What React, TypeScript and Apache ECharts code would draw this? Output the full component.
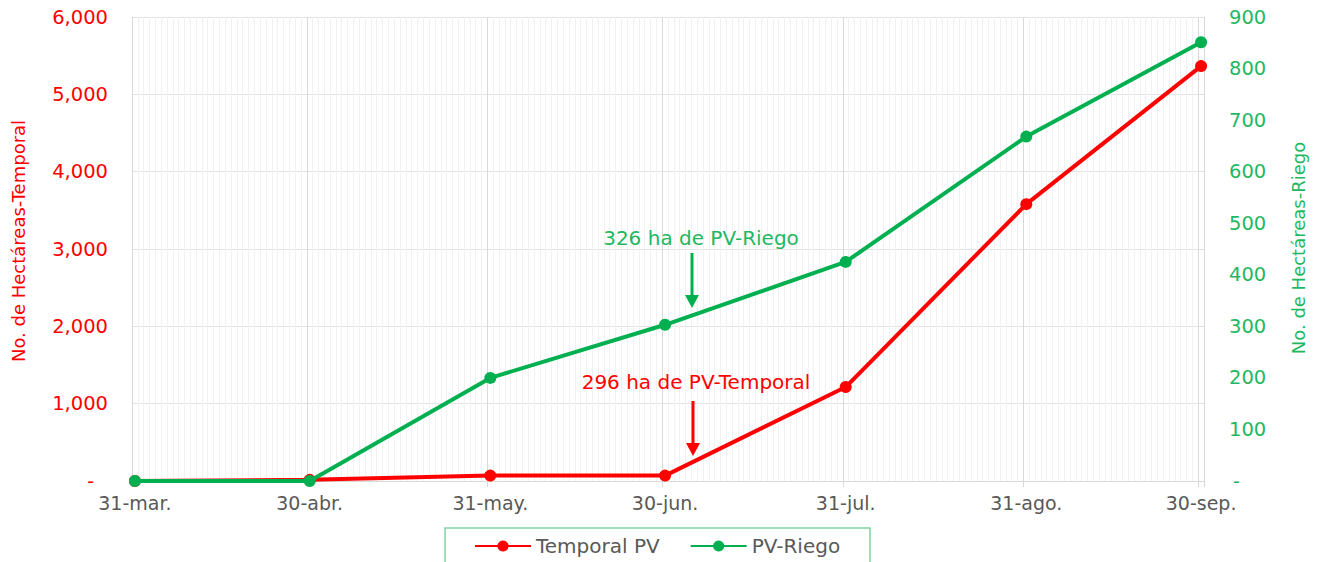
import React, { useEffect, useRef } from "react";
import * as echarts from "echarts";

const dateLabels = ["31-mar.", "30-abr.", "31-may.", "30-jun.", "31-jul.", "31-ago.", "30-sep."];
const temporalPV = [0, 15, 70, 70, 1215, 3580, 5365];
const pvRiego = [0, 0, 200, 303, 425, 668, 851];
const leftTicks = { min: 0, max: 6000, interval: 1000 };
const rightTicks = { min: 0, max: 900, interval: 100 };
const monthAbbr = ["ene", "feb", "mar", "abr", "may", "jun", "jul", "ago", "sep", "oct", "nov", "dic"];

const FONT = "DejaVu Sans";
const RED = "#FF0000";
const GREEN = "#00B050";
const GREEN_TXT = "#1fb862";

function buildDays(): string[] {
  const out: string[] = [];
  const start = new Date(2023, 2, 31);
  const end = new Date(2023, 8, 30);
  for (let d = new Date(start); d <= end; d.setDate(d.getDate() + 1)) {
    const dd = String(d.getDate()).padStart(2, "0");
    out.push(`${dd}-${monthAbbr[d.getMonth()]}.`);
  }
  return out;
}

export default function App() {
  const ref = useRef<HTMLDivElement>(null);
  useEffect(() => {
    if (!ref.current) return;
    const chart = echarts.init(ref.current, undefined, { renderer: "svg" });
    const days = buildDays();
    const major = new Set(dateLabels);
    const isMajor = (_i: number, v: string) => major.has(v);
    const fmtLeft = (v: number) => (v === 0 ? "{z|-}" : v.toLocaleString("en-US"));
    const fmtRight = (v: number) => (v === 0 ? "{z|-}" : String(v));

    chart.setOption({
      animation: false,
      textStyle: { fontFamily: FONT },
      grid: { left: 132, right: 115, top: 17, bottom: 81 },
      legend: {
        left: 474,
        top: 536,
        padding: 0,
        itemWidth: 56,
        itemHeight: 14,
        itemGap: 30,
        textStyle: { fontSize: 20, color: "#595959", fontFamily: FONT },
        data: ["Temporal PV", "PV-Riego"],
      },
      xAxis: [
        {
          type: "category",
          data: days,
          boundaryGap: true,
          axisLine: { show: true, lineStyle: { color: "#d9d9d9", width: 1 } },
          axisTick: { show: true, interval: isMajor, length: 6, lineStyle: { color: "#d9d9d9" } },
          axisLabel: {
            interval: isMajor,
            color: "#595959",
            fontSize: 19,
            fontFamily: FONT,
            margin: 12,
          },
          splitLine: { show: true, interval: isMajor, lineStyle: { color: "#d9d9d9", width: 1 } },
          z: 2,
        },
        {
          type: "category",
          data: days,
          boundaryGap: true,
          position: "bottom",
          axisLine: { show: false },
          axisTick: { show: false },
          axisLabel: { show: false },
          splitLine: { show: true, interval: 0, lineStyle: { color: "#f1f1f1", width: 1 } },
          z: 1,
        },
      ],
      yAxis: [
        {
          type: "value",
          ...leftTicks,
          axisLine: { show: false },
          axisTick: { show: false },
          axisLabel: {
            formatter: fmtLeft,
            color: RED,
            fontSize: 19.5,
            fontFamily: FONT,
            margin: 24,
            rich: { z: { color: RED, fontSize: 19, fontFamily: FONT, padding: [0, 14, 0, 0] } },
          },
          splitLine: { show: true, lineStyle: { color: "#e2e2e2", width: 1 } },
        },
        {
          type: "value",
          ...rightTicks,
          position: "right",
          axisLine: { show: false },
          axisTick: { show: false },
          axisLabel: {
            formatter: fmtRight,
            color: GREEN_TXT,
            fontSize: 19.5,
            fontFamily: FONT,
            margin: 25,
            rich: { z: { color: GREEN_TXT, fontSize: 19, fontFamily: FONT, padding: [0, 0, 0, 4] } },
          },
          splitLine: { show: false },
        },
      ],
      series: [
        {
          name: "Temporal PV",
          type: "line",
          xAxisIndex: 0,
          yAxisIndex: 0,
          data: dateLabels.map((d, i) => [d, temporalPV[i]]),
          symbol: "circle",
          symbolSize: 12,
          lineStyle: { color: RED, width: 4 },
          itemStyle: { color: RED },
          z: 3,
        },
        {
          name: "PV-Riego",
          type: "line",
          xAxisIndex: 0,
          yAxisIndex: 1,
          data: dateLabels.map((d, i) => [d, pvRiego[i]]),
          symbol: "circle",
          symbolSize: 12,
          lineStyle: { color: GREEN, width: 4 },
          itemStyle: { color: GREEN },
          z: 4,
        },
      ],
      graphic: [
        {
          type: "rect",
          shape: { x: 445, y: 528, width: 425, height: 60 },
          style: { fill: "none", stroke: "#7fd4a3", lineWidth: 1.5 },
          z: 0,
        },
        {
          type: "text",
          x: 18,
          y: 241,
          rotation: Math.PI / 2,
          style: {
            text: "No. de Hectáreas-Temporal",
            fill: RED,
            fontSize: 18,
            fontFamily: FONT,
            align: "center",
            verticalAlign: "middle",
          },
        },
        {
          type: "text",
          x: 1298,
          y: 248,
          rotation: Math.PI / 2,
          style: {
            text: "No. de Hectáreas-Riego",
            fill: GREEN_TXT,
            fontSize: 18,
            fontFamily: FONT,
            align: "center",
            verticalAlign: "middle",
          },
        },
        {
          type: "text",
          x: 701,
          y: 238,
          style: {
            text: "326 ha de PV-Riego",
            fill: GREEN_TXT,
            fontSize: 20,
            fontFamily: FONT,
            align: "center",
            verticalAlign: "middle",
          },
          z: 10,
        },
        {
          type: "line",
          shape: { x1: 692, y1: 253, x2: 692, y2: 298 },
          style: { stroke: GREEN, lineWidth: 3 },
          z: 10,
        },
        {
          type: "polygon",
          shape: { points: [[685, 295], [699, 295], [692, 308]] },
          style: { fill: GREEN },
          z: 10,
        },
        {
          type: "text",
          x: 696,
          y: 382,
          style: {
            text: "296 ha de PV-Temporal",
            fill: RED,
            fontSize: 20,
            fontFamily: FONT,
            align: "center",
            verticalAlign: "middle",
          },
          z: 10,
        },
        {
          type: "line",
          shape: { x1: 693, y1: 401, x2: 693, y2: 446 },
          style: { stroke: RED, lineWidth: 3 },
          z: 10,
        },
        {
          type: "polygon",
          shape: { points: [[686, 443], [700, 443], [693, 456]] },
          style: { fill: RED },
          z: 10,
        },
      ],
    });
    return () => chart.dispose();
  }, []);
  return (
    <div
      ref={ref}
      style={{ position: "fixed", left: 0, top: 0, width: 1319, height: 562, background: "#fff" }}
    />
  );
}
